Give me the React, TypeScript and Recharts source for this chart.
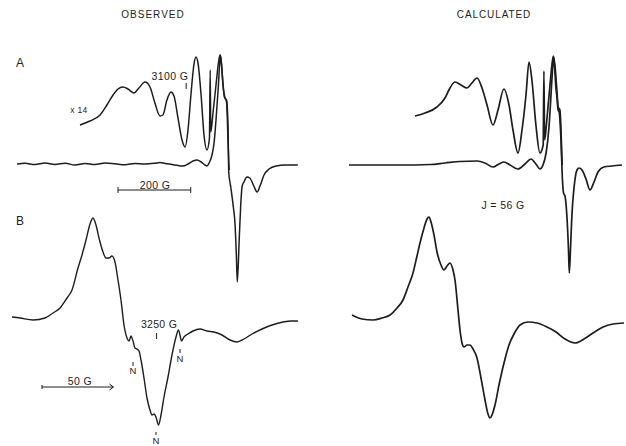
import { LineChart, Line, XAxis, YAxis, ReferenceLine } from 'recharts';
import type { ReactNode } from 'react';

type Pt = [number, number];

// [field (G), signal (arb. units)]

// A, observed: full trace and the x14 trace
const obsABase: Pt[] = [
  [2635, 0], [2657, 0.8], [2684, -0.6], [2712, 1], [2739, -0.4], [2767, 0.8], [2794, -1],
  [2822, 0.5], [2849, -0.6], [2877, 1], [2904, 0.2], [2932, -0.8], [2959, 0.6], [2987, 0],
  [3014, 0.8], [3028, 1.5], [3042, 0.5], [3061, -0.5], [3078, -1.5], [3091, -2], [3105, 0],
  [3119, 3], [3130, 4], [3141, 2], [3152, -1], [3157, -2], [3163, 1], [3171, 9], [3177, 22],
  [3182, 44], [3188, 75], [3192, 100], [3194, 109], [3197, 100], [3201, 82], [3205, 67],
  [3211, 64], [3215, 39], [3217, -8], [3223, -24], [3230, -44], [3234, -58], [3238, -91],
  [3240.6, -118], [3246, -74], [3250, -41], [3254, -22], [3259, -18], [3267, -13], [3275, -14],
  [3286, -22], [3295, -28], [3303, -22], [3314, -11], [3328, -5], [3347, -2], [3372, -1], [3407, -1],
];
const obsAx14: Pt[] = [
  [2808, 0], [2835.5, 4], [2863, 10], [2882, 20], [2899, 30], [2912.5, 36], [2926, 38],
  [2940, 36], [2956.5, 32], [2970, 37], [2987, 43], [3000.5, 38], [3014, 22], [3028, 9],
  [3036, 10], [3047, 25], [3058, 33], [3066.5, 29], [3077.5, 7], [3088.5, -15], [3097, -22],
  [3105, -5], [3113, 30], [3121.5, 61], [3127, 68], [3132.5, 62], [3141, 30], [3149, -10],
  [3157, -25], [3164, -13], [3166, 55], [3167.7, -7], [3174, 13], [3182, 40], [3189, 63],
  [3193, 70], [3197, 62], [3201, 40], [3207, 27], [3211, 23], [3215, -15], [3218, -45],
];

// A, calculated
const calcABase: Pt[] = [
  [2632, 0], [2772, 0], [2855, 0.5], [2896, 2], [2937, 3.5], [2984, 4], [3006, 2], [3028, -2],
  [3044.5, 1], [3058, 3], [3074.75, 0], [3096.75, -4], [3116, 1], [3132.5, 6], [3146, 1],
  [3157, -4], [3165.5, 0], [3174, 12], [3182, 38], [3187.5, 70], [3191.6, 95], [3194.4, 108],
  [3197, 100], [3201, 77], [3204, 68], [3207, 55], [3210, 53], [3215, 25], [3219, -15],
  [3222, -28], [3226, -31], [3231.5, -53], [3235.6, -85], [3237.8, -108], [3241, -85],
  [3245, -50], [3251, -22], [3259, -5], [3264.5, -3], [3272.75, -5], [3283.75, -14],
  [3294.75, -25], [3305.75, -17], [3316.75, -7], [3333, -2], [3355, -1], [3382.75, 0],
];
const calcAx14: Pt[] = [
  [2813.5, 0], [2841, 3], [2874, 9], [2896, 18], [2909.75, 28], [2923.5, 34], [2940, 31],
  [2956.5, 28], [2970, 33], [2984, 38], [2997.75, 28], [3011.5, 11], [3028, -9], [3041.75, 6],
  [3058, 27], [3072, 11], [3083, -14], [3096.75, -37], [3107.75, -14], [3118.75, 21],
  [3127, 54], [3135, 36], [3146, -9], [3157, -37], [3166, -29], [3168, 45], [3170, -24],
  [3176.5, -2], [3184.75, 31], [3190, 51], [3194, 60], [3198.5, 50], [3204, 24], [3207, 9],
  [3212, 6], [3215, -14], [3218, -49],
];

// B, observed
const obsB: Pt[] = [
  [3148.8, 3], [3154.4, 2], [3163.5, 0], [3171.9, 2], [3177.5, 7], [3182.4, 12], [3187.3, 22],
  [3190.8, 30], [3195, 52], [3197.8, 65], [3200.6, 80], [3203.4, 96], [3205.5, 102],
  [3207.6, 95], [3209.7, 82], [3212.5, 68], [3214.6, 62], [3216.7, 62], [3218.8, 64],
  [3220.9, 58], [3223, 40], [3225.1, 20], [3227.2, -5], [3229.3, -18], [3230.7, -21],
  [3232.1, -16], [3233.5, -21], [3234.9, -28], [3236.3, -29], [3237.7, -31], [3239.1, -40],
  [3241.2, -58], [3243.3, -78], [3245.4, -90], [3246.8, -95], [3248.2, -94], [3249.6, -97],
  [3251.35, -105], [3253.1, -95], [3255.2, -77], [3258, -57], [3260.8, -35], [3263.6, -17],
  [3265.35, -10], [3266.4, -15], [3267.45, -21], [3269.2, -17], [3272, -14], [3275.5, -11],
  [3280.4, -9], [3285.3, -11], [3290.2, -12], [3295.8, -15], [3301.4, -20], [3306.3, -22],
  [3311.2, -19], [3316.8, -14], [3323.8, -9], [3330.8, -5], [3338.5, -2], [3344.8, -1], [3349, -1],
];

// B, calculated
const calcB: Pt[] = [
  [3152.3, 5], [3159.3, 1], [3167, 0], [3173.3, 2], [3178.9, 5], [3183.8, 12], [3188, 20],
  [3191.5, 33], [3195, 47], [3197.8, 64], [3199.9, 77], [3202.7, 92], [3204.8, 101],
  [3206.2, 103], [3207.6, 98], [3209.7, 85], [3211.8, 68], [3214.6, 55], [3216.7, 50],
  [3218.8, 54], [3220.9, 57], [3223, 50], [3224.4, 40], [3226.5, 10], [3227.9, -10],
  [3229.3, -23], [3230.7, -27], [3232.8, -25], [3234.9, -25], [3237, -29], [3239.8, -38],
  [3242.6, -58], [3245.4, -80], [3247.5, -94], [3248.9, -98], [3250.3, -95], [3252.4, -85],
  [3255.2, -65], [3258.7, -43], [3262.2, -25], [3265.7, -14], [3269.9, -5], [3275.5, -2],
  [3281.8, -3], [3288.8, -7], [3295.1, -12], [3301.4, -19], [3308.4, -23], [3314.7, -19],
  [3321, -13], [3328, -7], [3335, -4], [3342.7, -3],
];

// field markers
const markA = 3100;
const markB = 3250;
const barA = { from: 2912.5, len: 200 };
const barB = { from: 3169.8, len: 50 };
const nLinesB = [3233.5, 3249.6, 3266.4];

const ink = '#1d1d1d';
const font = '"Liberation Sans", Arial, Helvetica, sans-serif';

const rows = (pts: Pt[]) => pts.map(([g, v]) => ({ g, v }));

type Seg = [{ x: number; y: number }, { x: number; y: number }];
const seg = (x1: number, y1: number, x2: number, y2: number): Seg => [{ x: x1, y: y1 }, { x: x2, y: y2 }];

function Txt({ x, y, size = 10, spacing = 0.6, children }: { x: number; y: number; size?: number; spacing?: number; children: ReactNode }) {
  return (
    <div
      style={{
        position: 'absolute', left: x, top: y, transform: 'translate(-50%, -50%)',
        fontFamily: font, fontSize: size, letterSpacing: spacing, color: ink,
        whiteSpace: 'nowrap', lineHeight: 1,
      }}
    >
      {children}
    </div>
  );
}

interface PanelProps {
  left: number; top: number; width: number; height: number;
  xDomain: [number, number]; yDomain: [number, number]; ampDomain?: [number, number];
  main: Pt[]; amp?: Pt[]; sw: number; segs?: Seg[];
}

function Panel({ left, top, width, height, xDomain, yDomain, ampDomain, main, amp, sw, segs = [] }: PanelProps) {
  return (
    <div style={{ position: 'absolute', left, top }}>
      <LineChart width={width} height={height} margin={{ top: 0, right: 0, bottom: 0, left: 0 }}>
        <XAxis type="number" dataKey="g" domain={xDomain} allowDataOverflow hide />
        <YAxis yAxisId="s" type="number" domain={yDomain} allowDataOverflow hide />
        {ampDomain && <YAxis yAxisId="amp" type="number" domain={ampDomain} allowDataOverflow hide />}
        <Line data={rows(main)} dataKey="v" yAxisId="s" type="monotone" stroke={ink} strokeWidth={sw}
          dot={false} activeDot={false} isAnimationActive={false} />
        {amp && ampDomain && (
          <Line data={rows(amp)} dataKey="v" yAxisId="amp" type="monotone" stroke={ink} strokeWidth={sw}
            dot={false} activeDot={false} isAnimationActive={false} />
        )}
        {segs.map((s, i) => (
          <ReferenceLine key={i} yAxisId="s" segment={s} stroke={ink} strokeWidth={1} ifOverflow="visible" />
        ))}
      </LineChart>
    </div>
  );
}

export default function App() {
  const yA = -26;
  const segsA: Seg[] = [
    seg(barA.from, yA, barA.from + barA.len, yA),
    seg(barA.from, yA + 3, barA.from, yA - 3),
    seg(barA.from + barA.len, yA + 3, barA.from + barA.len, yA - 3),
    seg(markA, 81, markA, 75),
  ];
  const yB = -67;
  const bEnd = barB.from + barB.len;
  const segsB: Seg[] = [
    seg(barB.from, yB, bEnd, yB),
    seg(barB.from, yB + 2, barB.from, yB - 2),
    seg(bEnd - 2.8, yB + 3, bEnd, yB),
    seg(bEnd - 2.8, yB - 3, bEnd, yB),
    seg(markB, -13, markB, -19),
    seg(nLinesB[0], -42, nLinesB[0], -46),
    seg(nLinesB[1], -112, nLinesB[1], -115),
    seg(nLinesB[2], -29, nLinesB[2], -33),
  ];

  return (
    <div style={{ position: 'absolute', left: 0, top: 0, width: 626, height: 446, overflow: 'hidden', background: '#fff' }}>
      <Panel left={8} top={40} width={296} height={250} xDomain={[2610, 3424]} yDomain={[-126, 124]}
        ampDomain={[-165, 85]} main={obsABase} amp={obsAx14} sw={1.5} segs={segsA} />
      <Panel left={341} top={40} width={285} height={250} xDomain={[2610, 3393.75]} yDomain={[-125, 125]}
        ampDomain={[-174, 76]} main={calcABase} amp={calcAx14} sw={1.7} />
      <Panel left={8} top={200} width={296} height={246} xDomain={[3146, 3353.2]} yDomain={[-126, 120]}
        main={obsB} sw={1.4} segs={segsB} />
      <Panel left={343} top={200} width={283} height={246} xDomain={[3146, 3344.1]} yDomain={[-126, 120]}
        main={calcB} sw={1.7} />

      <Txt x={153} y={15} size={10} spacing={1}>OBSERVED</Txt>
      <Txt x={494} y={15} size={10} spacing={0.9}>CALCULATED</Txt>
      <Txt x={20} y={63} size={12} spacing={0}>A</Txt>
      <Txt x={20} y={221} size={12} spacing={0}>B</Txt>
      <Txt x={170} y={76} size={10.5} spacing={0.4}>3100 G</Txt>
      <Txt x={79} y={110} size={8.5} spacing={0.3}>x 14</Txt>
      <Txt x={155} y={185} size={10.5} spacing={0.4}>200 G</Txt>
      <Txt x={503} y={205} size={10.5} spacing={0.4}>J = 56 G</Txt>
      <Txt x={159} y={324} size={10.5} spacing={0.3}>3250 G</Txt>
      <Txt x={80} y={381} size={10.5} spacing={0.4}>50 G</Txt>
      <Txt x={133} y={371} size={9.5} spacing={0}>N</Txt>
      <Txt x={180} y={359} size={9.5} spacing={0}>N</Txt>
      <Txt x={156} y={441} size={9.5} spacing={0}>N</Txt>
    </div>
  );
}
